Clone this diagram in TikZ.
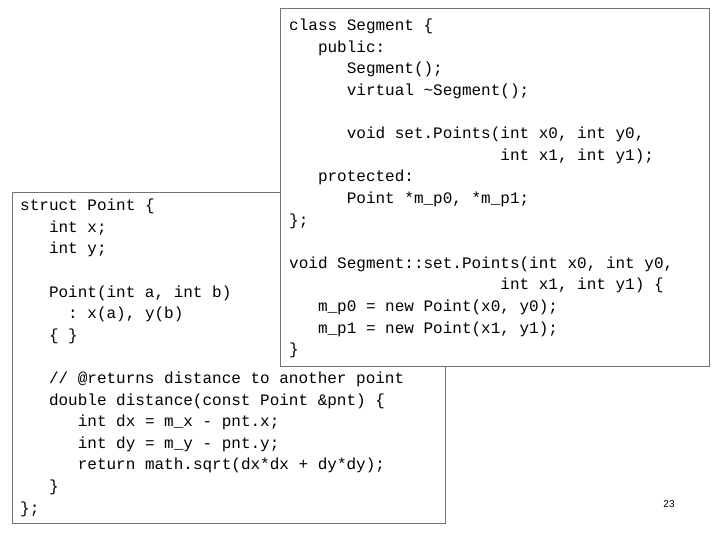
\documentclass[tikz,border=0pt]{standalone}
\usepackage{fontspec}
\setmainfont{Liberation Sans}
\setmonofont{Liberation Mono}
\newcommand{\ind}[1]{\hspace*{#1\dimexpr 9.6pt\relax}}
\begin{document}
\begin{tikzpicture}[x=1pt,y=-1pt,
  box/.style={draw=black!55,line width=0.8pt,fill=white},
  code/.style={font=\fontsize{16}{21.6}\ttfamily,align=left,inner sep=0pt,anchor=north west}]
\useasboundingbox (0,0) rectangle (720,540);
\path[box] (12,192) rectangle (445,523);
\node[code] (lt) at (20,199) {struct Point \{\\
\ind{3}int x;\\
\ind{3}int y;\\
\\
\ind{3}Point(int a, int b)\\
\ind{5}: x(a), y(b)\\
\ind{3}\{ \}\\
\\
\ind{3}// @returns distance to another point\\
\ind{3}double distance(const Point \&pnt) \{\\
\ind{6}int dx = m\_x - pnt.x;\\
\ind{6}int dy = m\_y - pnt.y;\\
\ind{6}return math.sqrt(dx*dx + dy*dy);\\
\ind{3}\}\\
\};};
\path[box] (280,8) rectangle (709,366);
\node[code] (rt) at (289,19) {class Segment \{\\
\ind{3}public:\\
\ind{6}Segment();\\
\ind{6}virtual \textasciitilde Segment();\\
\\
\ind{6}void set.Points(int x0, int y0,\\
\ind{22}int x1, int y1);\\
\ind{3}protected:\\
\ind{6}Point *m\_p0, *m\_p1;\\
\};\\
\\
void Segment::set.Points(int x0, int y0,\\
\ind{22}int x1, int y1) \{\\
\ind{3}m\_p0 = new Point(x0, y0);\\
\ind{3}m\_p1 = new Point(x1, y1);\\
\}};
\node[font=\fontsize{10}{12}\selectfont] (pg) at (669,504) {23};
\end{tikzpicture}
\end{document}
